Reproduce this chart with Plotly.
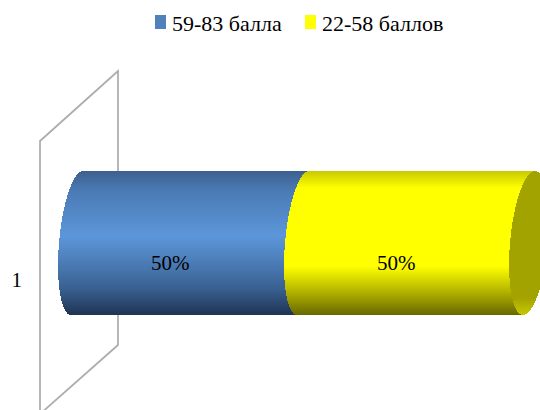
import numpy as np
import plotly.graph_objects as go

categories = ["1"]
series_names = ["59-83 балла", "22-58 баллов"]
series_colors = ["#4f81bd", "#ffff00"]
series_values = [50, 50]
series_labels = ["50%", "50%"]

W, H = 540, 410
LEFT = 40
PX_PER_UNIT = 4.52
ZERO_PX = 77
BAR_TOP, BAR_BOTTOM = 171, 315
ROWS = BAR_BOTTOM - BAR_TOP
HALF = ROWS / 2
CENTER = (BAR_TOP + BAR_BOTTOM) / 2
CURVE = [18 / PX_PER_UNIT, 18 / PX_PER_UNIT, 19 / PX_PER_UNIT]
SKEW = -6 / PX_PER_UNIT


def shade(stops, pix):
    ys = [s[0] for s in stops]
    out = []
    for p in pix:
        c = [np.interp(p, ys, [s[1][k] for s in stops]) for k in range(3)]
        out.append("rgb(%d,%d,%d)" % tuple(int(round(v)) for v in c))
    return out


blue_stops = [(171, (60, 96, 142)), (190, (74, 122, 180)), (236, (92, 150, 218)),
              (262, (76, 125, 183)), (290, (56, 94, 142)), (315, (31, 51, 82))]
yellow_stops = [(171, (200, 200, 0)), (188, (255, 255, 0)), (266, (255, 255, 0)),
                (288, (190, 190, 0)), (315, (104, 104, 0))]
cap_stops = [(171, (163, 163, 0)), (298, (163, 163, 0)), (315, (200, 200, 0))]

row_px = BAR_TOP + np.arange(ROWS) + 0.5
t = (row_px - CENTER) / HALF
bulge = np.sqrt(np.clip(1 - t ** 2, 0, 1))
edge = lambda i: SKEW * t - CURVE[i] * bulge

fig = go.Figure()
stops = [blue_stops, yellow_stops]
cum = 0
for i, (name, value) in enumerate(zip(series_names, series_values)):
    left = cum + edge(i)
    right = cum + value + edge(i + 1)
    fig.add_trace(go.Bar(y=t, x=right - left, base=left, orientation="h", name=name,
                         width=1 / HALF, showlegend=False, hoverinfo="skip",
                         marker=dict(color=shade(stops[i], row_px), line=dict(width=0))))
    cum += value

cap_left = cum + edge(2)
cap_right = cum + SKEW * t + CURVE[2] * bulge
fig.add_trace(go.Bar(y=t, x=cap_right - cap_left, base=cap_left, orientation="h",
                     width=1 / HALF, showlegend=False, hoverinfo="skip",
                     marker=dict(color=shade(cap_stops, row_px), line=dict(width=0))))

cum = 0
for value, label in zip(series_values, series_labels):
    fig.add_annotation(x=cum + value / 2, y=(263 - CENTER) / HALF, text=label, showarrow=False,
                       xshift=-20, font=dict(family="Liberation Serif", size=21, color="#000000"))
    cum += value

px = lambda v: (v - LEFT) / (W - LEFT)
py = lambda v: 1 - v / H
wall = [(40, 141), (118, 71), (118, 345), (40, 414)]
path = "M " + " L ".join(f"{px(a):.4f} {py(b):.4f}" for a, b in wall) + " Z"
fig.add_shape(type="path", xref="paper", yref="paper", path=path, layer="below",
              line=dict(color="#adadad", width=1.75))

# legend keys and texts
key_left = [155, 305]
text_left = [172, 322]
for name, col, kx, tx in zip(series_names, series_colors, key_left, text_left):
    fig.add_shape(type="rect", xref="paper", yref="paper", x0=px(kx), x1=px(kx + 11),
                  y0=py(29), y1=py(15), fillcolor=col, line=dict(width=0))
    fig.add_annotation(xref="paper", yref="paper", x=px(tx), y=py(23), xanchor="left", yanchor="middle",
                       text=name, showarrow=False, xshift=-2,
                       font=dict(family="Liberation Serif", size=22, color="#000000"))

fig.update_layout(
    width=W, height=H, margin=dict(l=LEFT, r=0, t=0, b=0),
    paper_bgcolor="white", plot_bgcolor="rgba(0,0,0,0)",
    barmode="overlay", bargap=0, showlegend=False,
    font=dict(family="Liberation Serif", size=21, color="#000000"),
    xaxis=dict(range=[(LEFT - ZERO_PX) / PX_PER_UNIT, (W - ZERO_PX) / PX_PER_UNIT],
               visible=False, fixedrange=True),
    yaxis=dict(range=[(H - CENTER) / HALF, (0 - CENTER) / HALF], showgrid=False, zeroline=False,
               showline=False, tickmode="array", tickvals=[(280 - CENTER) / HALF],
               ticktext=categories, ticks="", ticklabelstandoff=17,
               tickfont=dict(family="Liberation Serif", size=21, color="#000000"), fixedrange=True),
)
fig.write_html("out.html", config={"displayModeBar": False},
               post_script="document.body.style.margin='0';document.documentElement.style.overflow='hidden';")
